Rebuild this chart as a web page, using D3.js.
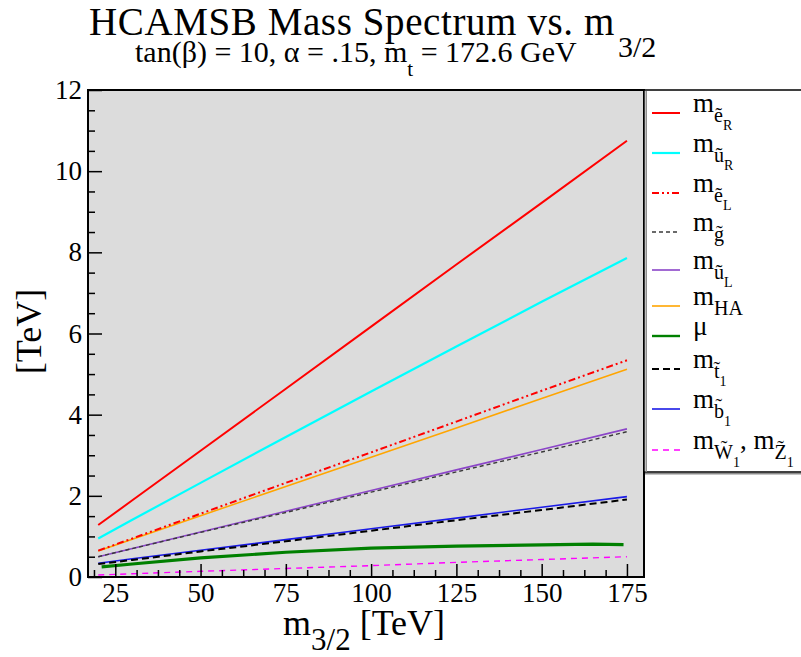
<!DOCTYPE html>
<html>
<head>
<meta charset="utf-8">
<script src="https://cdn.jsdelivr.net/npm/d3@7"></script>
<style>
  html, body { margin: 0; padding: 0; background: #ffffff; }
  svg { display: block; }
</style>
</head>
<body>
<svg id="chart" width="801" height="657" font-family="'Liberation Serif', 'DejaVu Serif', serif"></svg>
<script>
// Gravitino mass grid (TeV) shared by most spectra
const m32 = [20, 30, 50, 75, 100, 125, 150, 175];

// Sparticle masses (TeV) at each m3/2 point
const mER  = [1.28, 1.89, 3.11, 4.64, 6.17, 7.70, 9.22, 10.75];
const mUR  = [0.95, 1.41, 2.32, 3.45, 4.57, 5.68, 6.78, 7.86];
const mEL  = [0.65, 0.95, 1.56, 2.32, 3.07, 3.83, 4.59, 5.34];
const mGl  = [0.50, 0.70, 1.10, 1.59, 2.09, 2.59, 3.08, 3.58];
const mUL  = [0.50, 0.70, 1.11, 1.62, 2.13, 2.64, 3.14, 3.65];
const mHA  = [0.64, 0.93, 1.51, 2.23, 2.95, 3.67, 4.40, 5.12];
const mT1  = [0.32, 0.42, 0.63, 0.88, 1.14, 1.40, 1.65, 1.91];
const mB1  = [0.34, 0.45, 0.66, 0.92, 1.19, 1.45, 1.72, 1.98];
const mW1  = [0.05, 0.08, 0.14, 0.21, 0.28, 0.36, 0.43, 0.50];

// mu parameter runs on its own grid
const muX  = [21, 30, 50, 75, 100, 125, 150, 165, 174];
const muV  = [0.25, 0.32, 0.47, 0.61, 0.71, 0.76, 0.79, 0.81, 0.80];

// Axis ticks
const xMajor = [25, 50, 75, 100, 125, 150, 175];
const yMajor = [0, 2, 4, 6, 8, 10, 12];

const FONT = "'Liberation Serif', 'DejaVu Serif', serif";
const svg = d3.select("#chart");
const pLeft = 88, pRight = 644, pTop = 90, pBottom = 577;

const x = d3.scaleLinear().domain([17, 180]).range([pLeft, pRight]);
const y = d3.scaleLinear().domain([0, 12]).range([pBottom, pTop]);

// Plot background
svg.append("rect")
  .attr("x", pLeft).attr("y", pTop)
  .attr("width", pRight - pLeft).attr("height", pBottom - pTop)
  .attr("fill", "#dcdcdc");

svg.append("clipPath").attr("id", "plotclip")
  .append("rect").attr("x", pLeft).attr("y", pTop)
  .attr("width", pRight - pLeft).attr("height", pBottom - pTop);

// Series styling and legend labels (segments: [text, level])
const series = [
  { key: "eR", xs: m32, ys: mER, color: "#ff0000", w: 2,   dash: null,
    label: [["m", 0], ["\u1EBD", 1], ["R", 2]] },
  { key: "uR", xs: m32, ys: mUR, color: "#00ffff", w: 2.2, dash: null,
    label: [["m", 0], ["\u0169", 1], ["R", 2]] },
  { key: "eL", xs: m32, ys: mEL, color: "#ff0000", w: 2,   dash: "7,3,2,3,2,3",
    label: [["m", 0], ["\u1EBD", 1], ["L", 2]] },
  { key: "g",  xs: m32, ys: mGl, color: "#3a3a3a", w: 1.4, dash: "4,3",
    label: [["m", 0], ["g\u0303", 1]] },
  { key: "uL", xs: m32, ys: mUL, color: "#8b45c8", w: 1.6, dash: null,
    label: [["m", 0], ["\u0169", 1], ["L", 2]] },
  { key: "HA", xs: m32, ys: mHA, color: "#ffa500", w: 1.6, dash: null,
    label: [["m", 0], ["HA", 1]] },
  { key: "mu", xs: muX, ys: muV, color: "#008000", w: 3.2, dash: null,
    label: [["\u03BC", 0]] },
  { key: "t1", xs: m32, ys: mT1, color: "#000000", w: 2,   dash: "7,4",
    label: [["m", 0], ["t\u0303", 1], ["1", 2]] },
  { key: "b1", xs: m32, ys: mB1, color: "#1a1ae6", w: 1.6, dash: null,
    label: [["m", 0], ["b\u0303", 1], ["1", 2]] },
  { key: "W1", xs: m32, ys: mW1, color: "#ff00ff", w: 1.4, dash: "6,5",
    label: [["m", 0], ["W\u0303", 1], ["1", 2], [", m", 0], ["Z\u0303", 1], ["1", 2]] }
];

const byKey = Object.fromEntries(series.map(s => [s.key, s]));
const drawOrder = ["HA", "eR", "uR", "eL", "uL", "g", "b1", "t1", "mu", "W1"];

const line = d3.line().x(d => x(d[0])).y(d => y(d[1]));
const plotG = svg.append("g").attr("clip-path", "url(#plotclip)");
drawOrder.forEach(k => {
  const s = byKey[k];
  plotG.append("path")
    .datum(s.xs.map((v, i) => [v, s.ys[i]]))
    .attr("d", line)
    .attr("fill", "none")
    .attr("stroke", s.color)
    .attr("stroke-width", s.w)
    .attr("stroke-dasharray", s.dash)
    .attr("stroke-linejoin", "round");
});

// Axes: ticks point into the plot
const xMinor = d3.range(18.75, 176, 6.25).filter(v => !xMajor.some(m => Math.abs(m - v) < 1e-6));
const yMinor = d3.range(0.5, 12, 0.5).filter(v => Math.abs(v % 2) > 1e-6);

const xAxis = svg.append("g").attr("transform", `translate(0,${pBottom})`)
  .call(d3.axisBottom(x).tickValues(xMajor).tickSizeInner(-13).tickSizeOuter(0).tickPadding(6));
const xAxisMinor = svg.append("g").attr("transform", `translate(0,${pBottom})`)
  .call(d3.axisBottom(x).tickValues(xMinor).tickSizeInner(-7).tickSizeOuter(0).tickFormat(""));

const yAxis = svg.append("g").attr("transform", `translate(${pLeft},0)`)
  .call(d3.axisLeft(y).tickValues(yMajor).tickSizeInner(-14).tickSizeOuter(0).tickPadding(6));
const yAxisMinor = svg.append("g").attr("transform", `translate(${pLeft},0)`)
  .call(d3.axisLeft(y).tickValues(yMinor).tickSizeInner(-7).tickSizeOuter(0).tickFormat(""));

[xAxis, xAxisMinor, yAxis, yAxisMinor].forEach(g => {
  g.attr("font-family", FONT).attr("font-size", 27);
  g.select(".domain").remove();
  g.selectAll(".tick line").attr("stroke", "#000").attr("stroke-width", 1.5);
  g.selectAll(".tick text").attr("fill", "#000");
});

// Plot frame
svg.append("rect")
  .attr("x", pLeft).attr("y", pTop)
  .attr("width", pRight - pLeft).attr("height", pBottom - pTop)
  .attr("fill", "none").attr("stroke", "#000").attr("stroke-width", 2);

// Title and subtitle
const title = svg.append("text").attr("x", 89).attr("y", 34.5)
  .attr("font-family", FONT).attr("font-size", 39);
title.append("tspan").attr("letter-spacing", 0.6).text("HCAMSB Mass Spectrum vs. m");
title.append("tspan").attr("dx", 3).attr("dy", 22).attr("font-size", 30).text("3/2");

const sub = svg.append("text").attr("x", 135).attr("y", 62)
  .attr("font-family", FONT).attr("font-size", 30);
sub.append("tspan").text("tan(\u03B2) = 10, \u03B1 = .15, m");
sub.append("tspan").attr("dy", 14).attr("font-size", 21).text("t");
sub.append("tspan").attr("dy", -14).text(" = 172.6 GeV");

// Axis titles
const xt = svg.append("text").attr("x", 283).attr("y", 635)
  .attr("font-family", FONT).attr("font-size", 36);
xt.append("tspan").text("m");
xt.append("tspan").attr("dy", 15).attr("font-size", 31).text("3/2");
xt.append("tspan").attr("dy", -15).text(" [TeV]");

svg.append("text")
  .attr("transform", `translate(41,${(pTop + pBottom) / 2 - 2}) rotate(-90)`)
  .attr("text-anchor", "middle")
  .attr("font-family", FONT).attr("font-size", 36)
  .text("[TeV]");

// Legend box
const lgX = pRight, lgTop = 90, lgBot = 472;
svg.append("rect")
  .attr("x", lgX).attr("y", lgTop).attr("width", 170).attr("height", lgBot - lgTop)
  .attr("fill", "#ffffff").attr("stroke", "#000").attr("stroke-width", 1.5);
svg.append("line").attr("x1", lgX + 1).attr("x2", 801).attr("y1", lgBot + 1.8).attr("y2", lgBot + 1.8)
  .attr("stroke", "#8c8c8c").attr("stroke-width", 1.5);
svg.append("line").attr("x1", lgX + 2.2).attr("x2", lgX + 2.2).attr("y1", lgTop + 1).attr("y2", lgBot)
  .attr("stroke", "#8c8c8c").attr("stroke-width", 1.5);

const legendOrder = ["eR", "uR", "eL", "g", "uL", "HA", "mu", "t1", "b1", "W1"];
const legendRowY = [113, 153, 193, 232, 270, 306, 336, 369, 409, 450];
const levelSize = [27, 20, 14];
const levelShift = [0, 10, 18];

legendOrder.forEach((k, i) => {
  const s = byKey[k];
  const ly = legendRowY[i];
  svg.append("line")
    .attr("x1", 652).attr("x2", 680).attr("y1", ly).attr("y2", ly)
    .attr("stroke", s.color).attr("stroke-width", Math.min(s.w, 2.4))
    .attr("stroke-dasharray", s.dash);
  const t = svg.append("text").attr("x", 693).attr("y", ly - 1)
    .attr("font-family", FONT);
  let prev = 0;
  s.label.forEach(([txt, lvl]) => {
    t.append("tspan")
      .attr("dy", levelShift[lvl] - levelShift[prev])
      .attr("font-size", levelSize[lvl])
      .text(txt);
    prev = lvl;
  });
});
</script>
</body>
</html>
